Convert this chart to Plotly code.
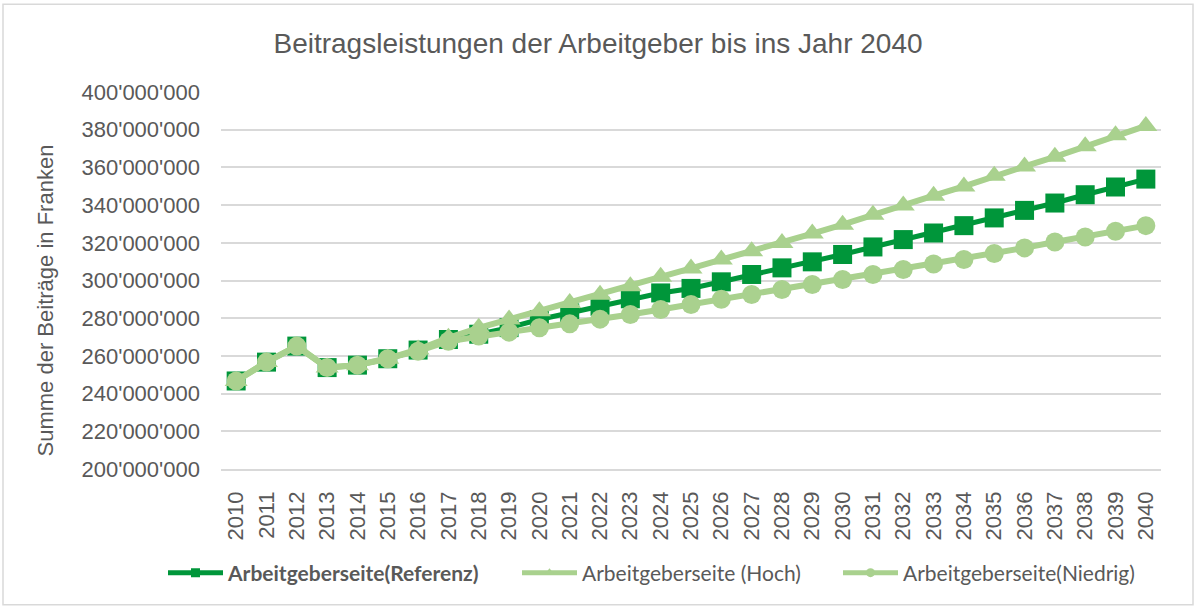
import plotly.graph_objects as go

years = [str(y) for y in range(2010, 2041)]

referenz = [246.7, 256.7, 265.2, 253.8, 255.1, 258.5, 263.1, 268.7, 271.5, 275.0,
            279.3, 282.8, 286.3, 290.3, 293.4, 295.8, 299.3, 303.2, 306.7, 309.9,
            313.8, 317.8, 321.7, 325.2, 329.1, 333.2, 337.2, 341.1, 345.5, 349.6, 353.8]
hoch = [246.7, 256.7, 265.2, 253.8, 255.1, 258.5, 263.4, 269.6, 274.9, 279.3,
        283.7, 288.1, 292.5, 296.9, 302.0, 306.4, 311.1, 315.5, 319.9, 324.9,
        329.6, 334.9, 339.8, 345.0, 349.9, 355.6, 360.5, 365.6, 371.2, 377.1, 382.0]
niedrig = [246.7, 256.7, 265.2, 253.8, 255.1, 258.5, 262.5, 267.8, 270.5, 272.6,
           274.9, 277.0, 279.5, 282.0, 284.6, 287.3, 290.0, 292.6, 295.2, 297.9,
           300.5, 303.2, 305.8, 308.8, 311.1, 314.3, 317.3, 320.4, 323.1, 326.1, 329.1]

names = ["<b>Arbeitgeberseite(Referenz)</b>", "Arbeitgeberseite (Hoch)", "Arbeitgeberseite(Niedrig)"]
y_ticks = [200, 220, 240, 260, 280, 300, 320, 340, 360, 380, 400]

title = "Beitragsleistungen der Arbeitgeber bis ins Jahr 2040"
y_title = "Summe der Beiträge in Franken"

DARK = "#00963A"
LIGHT = "#A9D18E"
TXT = "#595959"

W, H = 1196, 610
L, R, T, B = 221, 35, 92, 140
pw, ph = W - L - R, H - T - B
legend_ids = ["legend", "legend2", "legend3"]
legend_left = [163, 517, 838]  # px, left edge of each legend entry

def mil(v):
    return [x * 1e6 for x in v]

fig = go.Figure()
series = [
    (referenz, DARK, "square", 5, 19),
    (hoch, LIGHT, "triangle-up", 6, 20),
    (niedrig, LIGHT, "circle", 6, 19),
]
for (vals, col, sym, lw, ms), nm in zip(series, names):
    fig.add_trace(go.Scatter(
        x=years, y=mil(vals), mode="lines+markers", showlegend=False,
        line=dict(color=col, width=lw),
        marker=dict(symbol=sym, size=ms, color=col, line=dict(width=0)),
        name=nm))
# legend-only entries (smaller symbols like the original)
for (vals, col, sym, lw, ms), nm, lid in zip(series, names, legend_ids):
    fig.add_trace(go.Scatter(
        x=[None], y=[None], mode="lines+markers", name=nm, legend=lid,
        line=dict(color=col, width=5),
        marker=dict(symbol=sym, size=9, color=col, line=dict(width=0))))

leg_common = dict(orientation="h", xref="container", yref="container",
                  xanchor="left", y=1 - 573 / H, yanchor="middle",
                  font=dict(family="Lato, Arial", size=21, color=TXT),
                  itemwidth=55, bgcolor="rgba(0,0,0,0)")

fig.update_layout(
    width=W, height=H,
    margin=dict(l=L, r=R, t=T, b=B),
    paper_bgcolor="white", plot_bgcolor="white",
    separators=".'",
    font=dict(family="Liberation Sans, Arial, sans-serif", color=TXT, size=22),
    title=dict(text=title, x=598 / W, xanchor="center", xref="container",
               y=1 - 43 / H, yanchor="middle", yref="container",
               font=dict(size=28, color=TXT)),
    showlegend=True,
    legend=dict(x=legend_left[0] / W, **leg_common),
    legend2=dict(x=legend_left[1] / W, **leg_common),
    legend3=dict(x=legend_left[2] / W, **leg_common),
    xaxis=dict(type="category", range=[-0.5, 30.5], tickangle=-90,
               showgrid=False, showline=True, linecolor="#D9D9D9", linewidth=1.5,
               ticks="", ticklabelstandoff=12,
               tickfont=dict(size=22, color=TXT)),
    yaxis=dict(range=[200e6, 400e6], tickvals=mil(y_ticks), tickformat=",d",
               showgrid=True, gridcolor="#D9D9D9", gridwidth=1.5,
               zeroline=False, showline=False, ticks="", ticklabelstandoff=20,
               tickfont=dict(size=22, color=TXT)),
    annotations=[dict(text=y_title, textangle=-90, xref="paper", yref="paper",
                      x=(45 - L) / pw, y=(470 - 301) / ph, xanchor="center", yanchor="middle",
                      showarrow=False, font=dict(size=22, color=TXT))],
    shapes=[dict(type="rect", xref="paper", yref="paper",
                 x0=(3 - L) / pw, x1=(1193 - L) / pw,
                 y0=(470 - 606) / ph, y1=(470 - 4) / ph,
                 line=dict(color="#D9D9D9", width=1.5), fillcolor="rgba(0,0,0,0)",
                 layer="below")],
)

fig.write_html("out.html", config={"displayModeBar": False},
               post_script="document.body.style.margin='0';")
